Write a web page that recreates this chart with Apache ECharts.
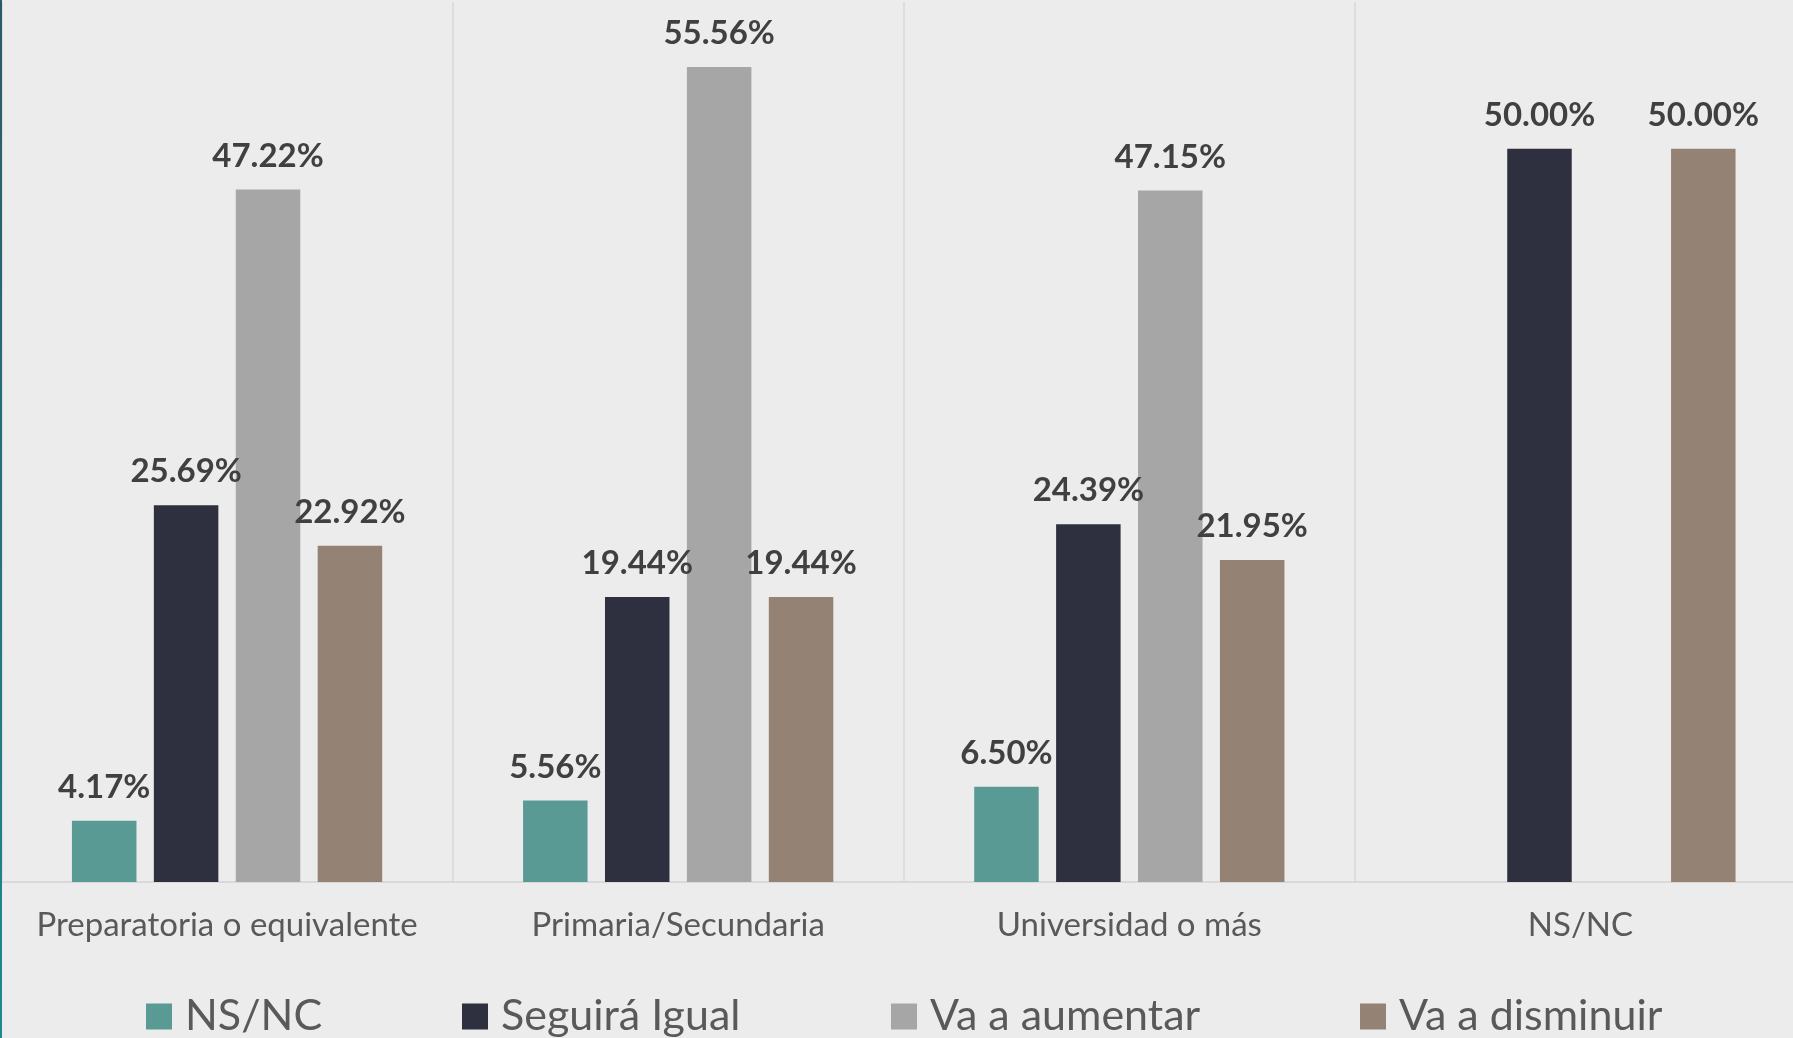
<!DOCTYPE html>
<html>
<head>
<meta charset="utf-8">
<script src="https://cdn.jsdelivr.net/npm/echarts@6/dist/echarts.min.js"></script>
<style>
html,body{margin:0;padding:0;background:#ececec;overflow:hidden;width:1793px;height:1038px;}
#c{width:1806px;height:1038px;}
</style>
</head>
<body>
<div id="c"></div>
<script>
const categories = ['Preparatoria o equivalente', 'Primaria/Secundaria', 'Universidad o más', 'NS/NC'];
const seriesNames = ['NS/NC', 'Seguirá Igual', 'Va a aumentar', 'Va a disminuir'];
const nsnc = [4.17, 5.56, 6.50, null];
const seguiraIgual = [25.69, 19.44, 24.39, 50.00];
const vaAumentar = [47.22, 55.56, 47.15, null];
const vaDisminuir = [22.92, 19.44, 21.95, 50.00];
const seriesValues = [nsnc, seguiraIgual, vaAumentar, vaDisminuir];
const colors = ['#5a9a94', '#2e303f', '#a6a6a6', '#948274'];
const legendLefts = [146, 462, 891, 1360];

const chart = echarts.init(document.getElementById('c'));
const font = 'Lato, "Noto Sans", sans-serif';

const option = {
  backgroundColor: '#ececec',
  animation: false,
  textStyle: { fontFamily: font },
  grid: { left: 1.5, right: 0, top: 2, bottom: 156 },
  xAxis: {
    type: 'category',
    data: categories,
    axisLine: { show: true, lineStyle: { color: '#d9d9d9', width: 2 } },
    axisTick: { show: false },
    splitLine: { show: true, interval: 0, lineStyle: { color: '#d9d9d9', width: 1.5 } },
    axisLabel: { interval: 0, color: '#595959', fontSize: 33, margin: 27, fontFamily: font }
  },
  yAxis: {
    type: 'value', min: 0, max: 60, show: false,
    splitLine: { show: false }
  },
  legend: seriesNames.map((n, i) => ({
    data: [n],
    left: legendLefts[i],
    top: 995,
    padding: 0,
    itemWidth: 26,
    itemHeight: 26,
    icon: 'rect',
    textStyle: { color: '#595959', fontSize: 43, fontFamily: font, padding: [0, 0, 0, 8] }
  })),
  series: seriesNames.map((n, i) => ({
    name: n,
    type: 'bar',
    data: seriesValues[i],
    barWidth: 64.5,
    barGap: '27%',
    itemStyle: { color: colors[i] },
    label: {
      show: true,
      position: 'top',
      distance: 17,
      color: '#404040',
      fontWeight: 'bold',
      fontSize: 33,
      fontFamily: font,
      formatter: p => (p.value == null ? '' : Number(p.value).toFixed(2) + '%')
    }
  })),
  graphic: [{
    type: 'rect',
    left: 0, top: 0,
    shape: { width: 2, height: 1038 },
    style: {
      fill: new echarts.graphic.LinearGradient(0, 0, 0, 1, [
        { offset: 0, color: '#2b5a68' },
        { offset: 1, color: '#1d8a90' }
      ])
    },
    z: 100
  }]
};
chart.setOption(option);
</script>
</body>
</html>
